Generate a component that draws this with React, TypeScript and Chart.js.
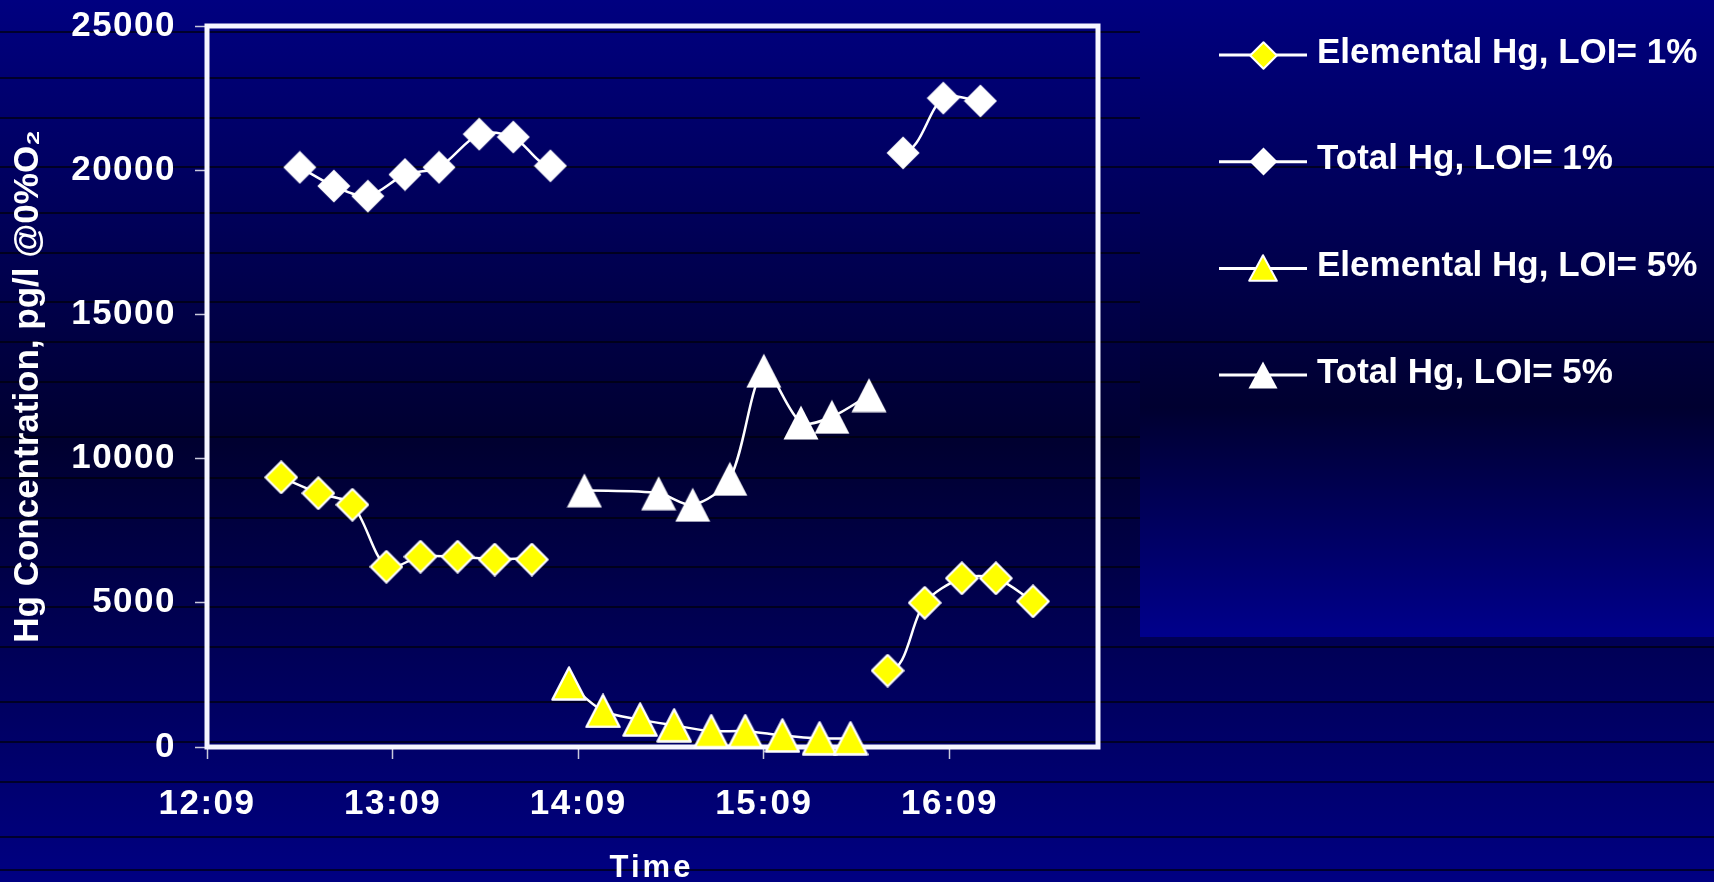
import React, { useEffect, useRef } from "react";
import { Chart, registerables } from "chart.js";

Chart.register(...registerables);

// Time axis: labelled every hour from the first sample window start
const timeTickLabels = ["12:09", "13:09", "14:09", "15:09", "16:09"];
const timeAxisEnd = "16:57";

// Concentration axis (pg/l @ 0% O2)
const concentrationMax = 25000;
const concentrationStep = 5000;

const seriesLabels = [
  "Elemental Hg, LOI= 1%",
  "Total Hg, LOI= 1%",
  "Elemental Hg, LOI= 5%",
  "Total Hg, LOI= 5%",
];

// Elemental Hg, LOI = 1%
const elemental1Times = ["12:33", "12:45", "12:56", "13:07", "13:18", "13:30", "13:42", "13:54", "15:49", "16:01", "16:13", "16:24", "16:36"];
const elemental1Values = [9350, 8800, 8400, 6250, 6600, 6600, 6500, 6500, 2650, 5000, 5850, 5850, 5050];

// Total Hg, LOI = 1%
const total1Times = ["12:39", "12:50", "13:01", "13:13", "13:24", "13:37", "13:48", "14:00", "15:54", "16:07", "16:19"];
const total1Values = [20100, 19450, 19100, 19850, 20100, 21250, 21150, 20150, 20600, 22500, 22400];

// Elemental Hg, LOI = 5%
const elemental5Times = ["14:06", "14:17", "14:29", "14:40", "14:52", "15:03", "15:15", "15:27", "15:37"];
const elemental5Values = [2200, 1250, 950, 750, 550, 550, 400, 300, 300];

// Total Hg, LOI = 5%
const total5Times = ["14:11", "14:35", "14:46", "14:58", "15:09", "15:21", "15:31", "15:43"];
const total5Values = [8900, 8800, 8400, 9300, 13050, 11250, 11450, 12200];

// Dark banding lines of the slide background
const bandLinesLeft = [32, 78, 118, 213, 253, 302, 382, 437, 478, 518, 567, 607];
const bandLinesFull = [167, 342, 647, 702, 742, 782, 837, 870];

const W = 1714;
const H = 882;
const FONT = '"Liberation Sans", Arial, sans-serif';
const YELLOW = "#ffff00";
const WHITE = "#ffffff";
const PANEL_LEFT = 1140;
const X_TITLE = "Time";
const Y_TITLE = "Hg Concentration, pg/l @0%O\u2082";

const toMinutes = (t: string) => {
  const [h, m] = t.split(":").map(Number);
  return h * 60 + m;
};

const toPoints = (times: string[], values: number[]) =>
  times.map((t, i) => ({ x: toMinutes(t), y: values[i] }));

function makeMarker(
  shape: "diamond" | "triangle",
  fill: string,
  stroke: string,
  w: number,
  h: number,
  lw: number
): HTMLCanvasElement {
  const c = document.createElement("canvas");
  c.width = w;
  c.height = h;
  const g = c.getContext("2d")!;
  const p = lw > 0 ? lw * 0.6 : 0.5;
  g.beginPath();
  if (shape === "diamond") {
    g.moveTo(w / 2, p);
    g.lineTo(w - p, h / 2);
    g.lineTo(w / 2, h - p);
    g.lineTo(p, h / 2);
  } else {
    g.moveTo(w / 2, p);
    g.lineTo(w - p, h - p);
    g.lineTo(p, h - p);
  }
  g.closePath();
  g.fillStyle = fill;
  g.fill();
  if (lw > 0) {
    g.lineWidth = lw;
    g.lineJoin = "round";
    g.strokeStyle = stroke;
    g.stroke();
  }
  return c;
}

export default function App() {
  const canvasRef = useRef<HTMLCanvasElement | null>(null);

  useEffect(() => {
    const canvas = canvasRef.current;
    if (!canvas) return;

    const plotMarkers = [
      makeMarker("diamond", YELLOW, WHITE, 34, 34, 2.2),
      makeMarker("diamond", WHITE, WHITE, 34, 34, 0),
      makeMarker("triangle", YELLOW, WHITE, 36, 35, 2.4),
      makeMarker("triangle", WHITE, WHITE, 36, 35, 0),
    ];
    const legendMarkers = [
      makeMarker("diamond", YELLOW, WHITE, 29, 29, 2),
      makeMarker("diamond", WHITE, WHITE, 29, 29, 0),
      makeMarker("triangle", YELLOW, WHITE, 30, 28, 2),
      makeMarker("triangle", WHITE, WHITE, 30, 28, 0),
    ];

    const seriesData = [
      toPoints(elemental1Times, elemental1Values),
      toPoints(total1Times, total1Values),
      toPoints(elemental5Times, elemental5Values),
      toPoints(total5Times, total5Values),
    ];

    const backgroundBands = {
      id: "backgroundBands",
      beforeDraw(chart: any) {
        const ctx = chart.ctx;
        ctx.save();
        ctx.strokeStyle = "rgba(0,0,8,0.9)";
        ctx.lineWidth = 1.5;
        for (const y of bandLinesLeft) {
          ctx.beginPath();
          ctx.moveTo(0, y);
          ctx.lineTo(PANEL_LEFT, y);
          ctx.stroke();
        }
        for (const y of bandLinesFull) {
          ctx.beginPath();
          ctx.moveTo(0, y);
          ctx.lineTo(W, y);
          ctx.stroke();
        }
        ctx.restore();
      },
    };

    const plotFrame = {
      id: "plotFrame",
      beforeDatasetsDraw(chart: any) {
        const { ctx, chartArea } = chart;
        ctx.save();
        ctx.strokeStyle = "#f6f6ff";
        ctx.lineWidth = 5;
        ctx.strokeRect(
          chartArea.left,
          chartArea.top,
          chartArea.right - chartArea.left,
          chartArea.bottom - chartArea.top
        );
        ctx.restore();
      },
      afterDatasetsDraw(chart: any) {
        // tick labels are drawn in a later layer with wider tracking
        (chart.ctx as any).letterSpacing = "1.5px";
      },
    };

    const sideText = {
      id: "sideText",
      afterDraw(chart: any) {
        const ctx = chart.ctx;
        const area = chart.chartArea;
        ctx.save();

        // x-axis title, letter-spaced
        (ctx as any).letterSpacing = "3px";
        ctx.fillStyle = WHITE;
        ctx.font = `bold 31px ${FONT}`;
        ctx.textAlign = "center";
        ctx.textBaseline = "middle";
        ctx.fillText(X_TITLE, (area.left + area.right) / 2 - 1, 868);
        (ctx as any).letterSpacing = "0px";

        // legend: line with marker, then the series name
        const lineStart = 1219;
        const lineEnd = 1307;
        const markerX = 1263;
        const textX = 1317;
        const firstY = 55;
        const gap = 106.7;
        chart.data.datasets.forEach((ds: any, i: number) => {
          const y = firstY + i * gap;
          ctx.strokeStyle = WHITE;
          ctx.lineWidth = 3;
          ctx.beginPath();
          ctx.moveTo(lineStart, y);
          ctx.lineTo(lineEnd, y);
          ctx.stroke();
          const m = legendMarkers[i];
          ctx.drawImage(m, Math.round(markerX - m.width / 2), Math.round(y - m.height / 2));
          ctx.fillStyle = WHITE;
          ctx.font = `bold 35px ${FONT}`;
          ctx.textAlign = "left";
          ctx.textBaseline = "middle";
          ctx.fillText(ds.label, textX, y - 2);
        });
        ctx.restore();
      },
    };

    const chart = new Chart(canvas, {
      type: "line",
      data: {
        datasets: seriesData.map((pts, i) => ({
          label: seriesLabels[i],
          data: pts,
          borderColor: WHITE,
          borderWidth: 2.5,
          tension: 0.3,
          fill: false,
          pointStyle: plotMarkers[i] as any,
          pointRadius: 16,
          pointHoverRadius: 16,
          spanGaps: 60,
          clip: false as any,
        })),
      },
      options: {
        responsive: false,
        animation: false,
        events: [],
        layout: { padding: { left: 0, right: W - 1098, top: 26, bottom: 0 } },
        plugins: {
          legend: { display: false },
          tooltip: { enabled: false },
          title: { display: false },
        },
        scales: {
          x: {
            type: "linear",
            min: toMinutes(timeTickLabels[0]),
            max: toMinutes(timeAxisEnd),
            afterBuildTicks: (scale: any) => {
              scale.ticks = timeTickLabels.map((t) => ({ value: toMinutes(t) }));
            },
            afterFit: (scale: any) => {
              scale.height = H - 747;
              scale.paddingLeft = 0;
              scale.paddingRight = 0;
            },
            grid: {
              drawOnChartArea: false,
              drawTicks: true,
              tickLength: 12,
              tickColor: "#c8c8dc",
              tickWidth: 1.5,
            },
            border: { display: false },
            ticks: {
              z: 1,
              autoSkip: false,
              maxRotation: 0,
              padding: 24,
              color: WHITE,
              font: { family: FONT, size: 35, weight: "bold" },
              callback: (_v: any, i: number) => timeTickLabels[i],
            },
            title: { display: false },
          },
          y: {
            type: "linear",
            min: 0,
            max: concentrationMax,
            afterFit: (scale: any) => {
              scale.width = 207;
              scale.paddingTop = 0;
              scale.paddingBottom = 0;
            },
            grid: {
              drawOnChartArea: false,
              drawTicks: true,
              tickLength: 12,
              tickColor: "#c8c8dc",
              tickWidth: 1.5,
            },
            border: { display: false },
            ticks: {
              z: 1,
              stepSize: concentrationStep,
              padding: 19,
              color: WHITE,
              font: { family: FONT, size: 35, weight: "bold" },
              callback: (v: any) => String(v),
            },
            title: {
              display: true,
              text: Y_TITLE,
              color: WHITE,
              padding: { top: 7, bottom: 0 },
              font: { family: FONT, size: 35, weight: "bold", lineHeight: 1.2 },
            },
          },
        },
      },
      plugins: [backgroundBands, plotFrame, sideText],
    });

    return () => {
      chart.destroy();
    };
  }, []);

  return (
    <div
      style={{
        position: "fixed",
        left: 0,
        top: 0,
        width: W,
        height: H,
        overflow: "hidden",
        background: "linear-gradient(to bottom, #000080 0%, #000030 50%, #000082 100%)",
      }}
    >
      <div
        style={{
          position: "absolute",
          left: PANEL_LEFT,
          top: 0,
          width: W - PANEL_LEFT,
          height: 637,
          background: "linear-gradient(to bottom, #000080 0%, #000030 64%, #00008c 100%)",
        }}
      />
      <canvas
        ref={canvasRef}
        width={W}
        height={H}
        style={{ position: "absolute", left: 0, top: 0, width: W, height: H }}
      />
    </div>
  );
}
